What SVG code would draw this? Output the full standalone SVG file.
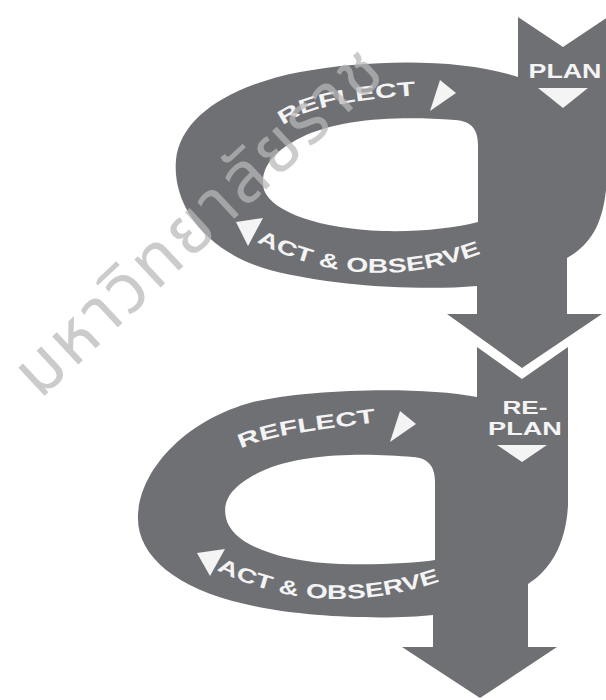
<svg xmlns="http://www.w3.org/2000/svg" width="606" height="700" viewBox="0 0 606 700">
<style>
.band{fill:#6f7074;fill-rule:evenodd}
.lbl{font-family:"Liberation Sans",Arial,sans-serif;font-weight:bold;fill:#f4f4f4;font-size:20px}
.sm{font-size:18px}
.tri{fill:#f4f4f4}
.wm{font-family:"Noto Sans Thai","Noto Sans",sans-serif;font-size:70px;letter-spacing:3px;fill:#b8b8b8;opacity:0.72}
</style>
<defs>
<path id="r1" d="M283,126 C305,106 360,99 432,94"/>
<path id="a1" d="M253,240 Q370,302 497,247"/>
<path id="r2" d="M241,449 C275,432 340,428 392,420"/>
<path id="a2" d="M213,568 Q320,624 447,579"/>
</defs>
<rect width="606" height="700" fill="#ffffff"/>
<g id="cycle2">
<path class="band" d="M477,347 L522,379 L568,347 L568,505 C566,545 550,570 528,584 L528,647 L557,647 L480,698 L402,647 L433,647 L433,615 C390,620 300,618 245,604 C175,588 136,555 138,515 C140,470 185,420 253,402 C310,389 420,386 477,397 Z M435,482 C435,466 428,458 413,457 C370,453 300,452 260,472 C232,486 222,500 226,518 C232,545 280,562 340,564 C380,565 415,563 435,560 Z"/>
<text class="lbl sm" text-anchor="middle"><tspan x="525" y="414" textLength="45" lengthAdjust="spacingAndGlyphs">RE-</tspan><tspan x="525" y="435" textLength="74" lengthAdjust="spacingAndGlyphs">PLAN</tspan></text>
<polygon class="tri" points="497,445 547,445 522,462"/>
<text class="lbl"><textPath href="#r2" textLength="138" lengthAdjust="spacingAndGlyphs">REFLECT</textPath></text>
<polygon class="tri" points="400,411 416,424 390,442"/>
<text class="lbl"><textPath href="#a2" textLength="230" lengthAdjust="spacingAndGlyphs" startOffset="4">ACT &amp; OBSERVE</textPath></text>
<polygon class="tri" points="225,549 210,576 197,553"/>
</g>
<g id="cycle1">
<path class="band" d="M518,17 L563,47 L608,17 L606,190 C602,228 588,246 567,258 L567,314 L602,314 L522,368 L447,314 L477,314 L477,286 C420,291 330,286 270,270 C205,252 172,205 176,160 C180,118 228,86 300,72 C370,59 462,58 518,77 Z M478,145 C478,130 472,121 455,120 C400,116 340,118 300,138 C272,152 259,170 264,190 C272,212 320,229 383,231 C420,232 455,228 478,222 Z"/>
<text class="lbl" x="565" y="78" text-anchor="middle" textLength="73" lengthAdjust="spacingAndGlyphs">PLAN</text>
<polygon class="tri" points="538,88 588,88 563,108"/>
<text class="lbl"><textPath href="#r1" textLength="138" lengthAdjust="spacingAndGlyphs">REFLECT</textPath></text>
<polygon class="tri" points="440,80 456,93 430,111"/>
<text class="lbl"><textPath href="#a1" textLength="232" lengthAdjust="spacingAndGlyphs" startOffset="4">ACT &amp; OBSERVE</textPath></text>
<polygon class="tri" points="263,218 248,246 236,222"/>
</g>
<g id="connectors"></g>
<text class="wm" transform="translate(40,400) rotate(-43)">มหาวิทยาลัยราช</text>
</svg>
